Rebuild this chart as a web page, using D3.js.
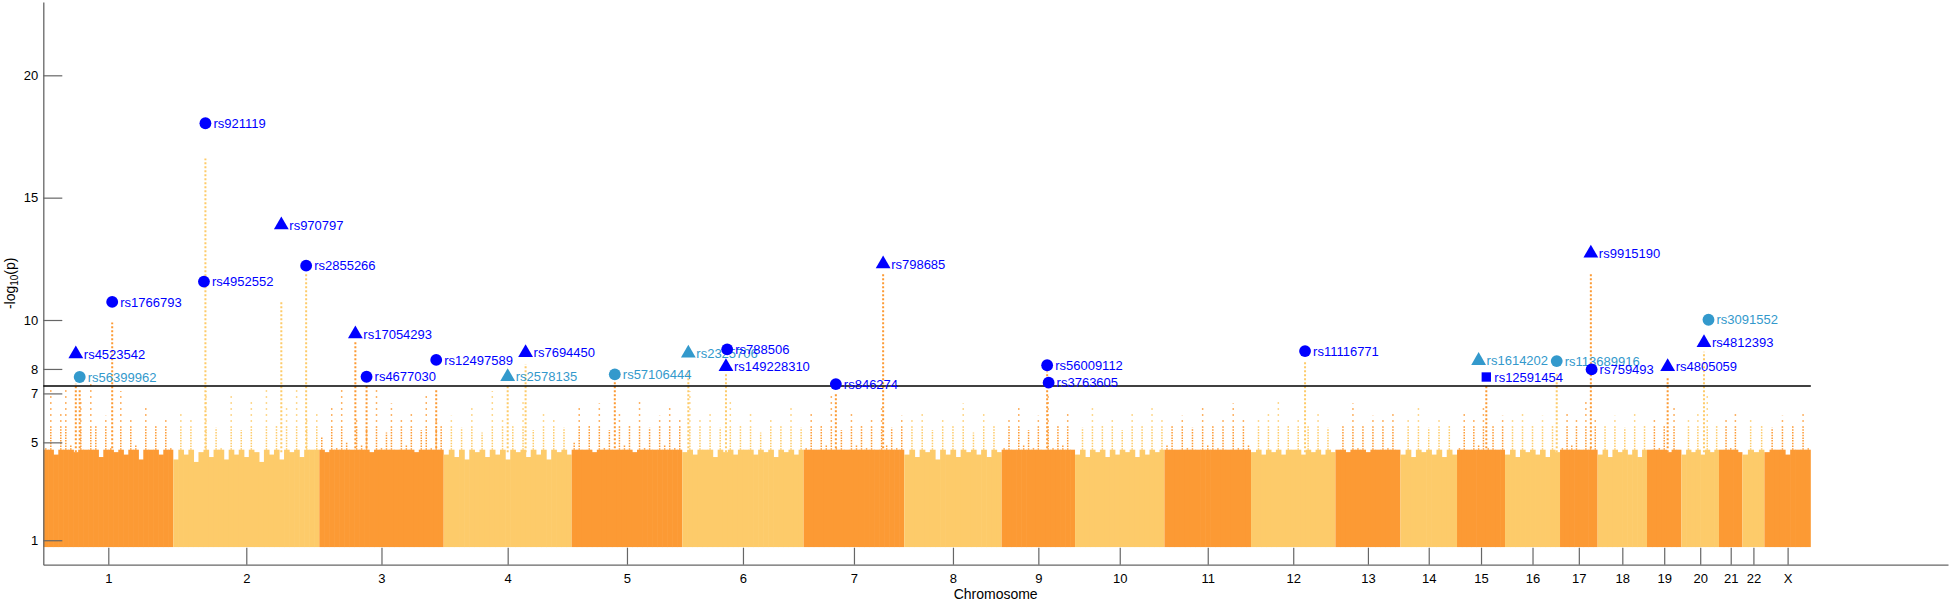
<!DOCTYPE html>
<html>
<head>
<meta charset="utf-8">
<script src="https://cdn.jsdelivr.net/npm/d3@7"></script>
<style>
  body { margin: 0; background: #fff; }
  svg { display: block; font-family: "Liberation Sans", Arial, Helvetica, sans-serif; }
</style>
</head>
<body>
<svg id="chart" width="1950" height="601"></svg>
<script>
// chromosomes and their size in the plot (thousands of SNPs)
const chrNames = ['1', '2', '3', '4', '5', '6', '7', '8', '9', '10', '11', '12', '13', '14', '15', '16', '17', '18', '19', '20', '21', '22', 'X'];
const chrSnps = [650, 730, 622, 640, 553, 607, 503, 487, 367, 447, 433, 422, 325, 283, 240, 275, 188, 247, 172, 188, 117, 110, 232];
const xMax = 9524;

// upper edge of the background cloud, read across each chromosome (-log10 p)
const chrFringe = [
  [4.8, 7.2, 4.5, 6.3, 7.3, 4.9, 4.6, 6.8, 4.7, 7.4, 5.8, 4.4, 6.1, 4.8, 4.6, 7.1, 4.5, 6.0, 4.9, 4.3, 6.4, 4.7, 5.8, 4.5, 6.0, 4.8],
  [4.3, 6.2, 4.5, 5.9, 4.2, 4.6, 7.1, 4.4, 5.6, 4.8, 4.3, 6.9, 4.5, 5.5, 4.4, 6.7, 4.6, 4.2, 7.2, 4.5, 5.7, 4.3, 6.4, 4.6, 7.3, 4.4, 5.9, 4.7, 6.2],
  [5.2, 4.6, 6.5, 4.8, 7.2, 5.0, 4.7, 6.0, 4.9, 5.6, 4.6, 7.3, 4.8, 5.4, 6.6, 4.7, 5.9, 4.9, 6.2, 4.6, 5.5, 7.0, 4.8, 6.1, 5.8],
  [4.5, 6.1, 4.4, 5.6, 4.3, 6.4, 4.6, 5.4, 4.4, 7.1, 4.5, 6.0, 4.3, 5.8, 4.6, 6.7, 4.4, 5.5, 4.5, 6.3, 4.3, 5.9, 4.6, 5.6, 4.5],
  [5.0, 6.4, 4.7, 5.8, 4.6, 6.6, 4.8, 5.5, 4.7, 6.2, 4.9, 5.7, 4.6, 6.8, 4.8, 5.6, 4.7, 6.1, 4.9, 6.5, 4.8, 5.9],
  [4.6, 7.1, 4.5, 5.9, 4.7, 6.3, 4.4, 5.6, 4.6, 6.8, 4.5, 5.7, 4.7, 6.2, 4.5, 5.4, 4.6, 6.0, 4.4, 5.8, 4.6, 6.4, 4.5, 5.6],
  [4.8, 6.2, 4.7, 5.7, 4.9, 6.9, 4.8, 5.5, 4.7, 6.3, 4.9, 5.8, 4.8, 6.0, 4.7, 6.5, 4.9, 5.6, 4.8, 6.1],
  [4.5, 5.9, 4.4, 6.3, 4.6, 5.5, 4.3, 6.0, 4.5, 5.7, 4.4, 6.6, 4.6, 5.4, 4.5, 6.2, 4.4, 5.8, 4.6],
  [4.8, 5.9, 4.7, 6.4, 4.9, 5.5, 4.8, 6.1, 4.7, 6.9, 4.8, 5.7, 4.9, 6.3, 4.7],
  [4.5, 5.6, 4.4, 6.5, 4.6, 5.8, 4.4, 6.0, 4.5, 5.5, 4.6, 6.2, 4.4, 5.7, 4.5, 6.4, 4.6, 5.9],
  [4.9, 5.8, 4.7, 6.1, 4.8, 5.6, 4.7, 6.4, 4.9, 5.7, 4.8, 6.0, 4.7, 6.6, 4.8, 5.9, 4.9],
  [4.6, 5.9, 4.5, 6.2, 4.6, 6.7, 4.5, 5.7, 4.7, 6.0, 4.5, 5.8, 4.6, 6.3, 4.5, 5.6, 4.6],
  [4.7, 5.8, 4.6, 6.6, 4.8, 5.7, 4.6, 6.1, 4.7, 5.9, 4.8, 6.2, 4.7],
  [4.5, 5.9, 4.4, 6.4, 4.6, 5.6, 4.5, 6.0, 4.4, 5.8, 4.5],
  [4.8, 6.3, 4.7, 5.9, 4.9, 6.5, 4.8, 5.7, 4.7, 6.1],
  [4.5, 6.0, 4.4, 6.3, 4.6, 5.7, 4.5, 6.1, 4.4, 5.8, 4.6],
  [4.8, 6.2, 4.9, 5.9, 4.7, 6.7, 4.8, 6.0],
  [4.5, 5.8, 4.4, 6.1, 4.6, 5.6, 4.5, 6.3, 4.4, 5.7],
  [4.7, 6.0, 4.8, 5.7, 4.6, 6.4, 4.7],
  [4.5, 5.9, 4.6, 6.2, 4.5, 7.0, 4.6, 5.8],
  [4.7, 5.9, 4.8, 6.2, 4.6],
  [4.5, 6.0, 4.6, 5.7],
  [4.6, 5.6, 4.7, 6.1, 4.5, 5.8, 4.7, 6.2, 4.8]
];
const cloudFloor = 0.72;

// labelled lead SNPs: chromosome index, relative position inside chromosome, -log10 p
const snpIds = ['rs56399962', 'rs2578135', 'rs57106444', 'rs2325706', 'rs1614202', 'rs113689916', 'rs3091552',
  'rs4523542', 'rs1766793', 'rs4952552', 'rs921119', 'rs970797', 'rs2855266', 'rs17054293', 'rs4677030',
  'rs12497589', 'rs7694450', 'rs788506', 'rs149228310', 'rs846274', 'rs798685', 'rs56009112', 'rs3763605',
  'rs11116771', 'rs12591454', 'rs9915190', 'rs759493', 'rs4805059', 'rs4812393'];
const snpChr = [0, 3, 4, 5, 14, 15, 19, 0, 0, 1, 1, 1, 1, 2, 2, 2, 3, 5, 5, 6, 6, 8, 8, 11, 14, 16, 16, 18, 19];
const snpPos = [0.28, 0.50, 0.39, 0.05, 0.45, 0.94, 0.72, 0.25, 0.53, 0.21, 0.22, 0.74, 0.91, 0.29, 0.38,
  0.94, 0.64, 0.37, 0.36, 0.32, 0.79, 0.62, 0.64, 0.64, 0.61, 0.82, 0.84, 0.60, 0.60];
const snpLogP = [7.67, 7.68, 7.78, 8.64, 8.34, 8.32, 10.01, 8.61, 10.74, 11.57, 18.04, 13.88, 12.22, 9.43, 7.68,
  8.37, 8.66, 8.80, 8.09, 7.38, 12.29, 8.15, 7.44, 8.73, 7.67, 12.73, 7.98, 8.09, 9.07];
const snpShape = ['circle', 'triangle', 'circle', 'triangle', 'triangle', 'circle', 'circle', 'triangle', 'circle',
  'circle', 'circle', 'triangle', 'circle', 'triangle', 'circle', 'circle', 'triangle', 'circle', 'triangle',
  'circle', 'triangle', 'circle', 'circle', 'circle', 'square', 'triangle', 'circle', 'triangle', 'triangle'];
const snpTone = ['light', 'light', 'light', 'light', 'light', 'light', 'light', 'dark', 'dark', 'dark', 'dark', 'dark',
  'dark', 'dark', 'dark', 'dark', 'dark', 'dark', 'dark', 'dark', 'dark', 'dark', 'dark', 'dark', 'dark', 'dark',
  'dark', 'dark', 'dark'];
// highest background point in the column under each lead SNP (0 = no own column)
const snpColTop = [7.2, 7.3, 7.5, 8.0, 0, 7.8, 0, 7.4, 9.9, 0, 16.6, 10.8, 11.9, 9.1, 7.3,
  7.2, 8.2, 0, 7.8, 7.0, 11.9, 7.9, 0, 8.3, 7.3, 11.9, 0, 7.7, 8.7];

const yTicks = [1, 5, 7, 8, 10, 15, 20];
const gwsLine = -Math.log10(5e-8);

const svg = d3.select('#chart');
const x = d3.scaleLinear().domain([0, xMax]).range([43.3, 1948]);
const y = d3.scaleLinear().domain([0, 23]).range([564.7, 1.9]);

const chrStart = Array.from(d3.cumsum([0, ...chrSnps]));
const chrColor = (c) => (c % 2 === 0 ? '#fc9a34' : '#fdcb6a');
const capTop = 4.7;   // top of the near-solid part of the cloud
const denseTop = 5.6; // dots thin out above this

// background cloud
const cloud = svg.append('g');
chrFringe.forEach((hs, c) => {
  const step = chrSnps[c] / hs.length;
  hs.forEach((h, i) => {
    const a = chrStart[c] + i * step;
    const b = a + step;
    const top = Math.min(h, capTop);
    const wExtra = i < hs.length - 1 ? 0.6 : 0;
    cloud.append('rect')
      .attr('x', x(a))
      .attr('width', x(b) - x(a) + wExtra)
      .attr('y', y(top))
      .attr('height', y(cloudFloor) - y(top))
      .attr('fill', chrColor(c));
    if (h > capTop) {
      const xm = x(a + step * 0.5);
      cloud.append('line')
        .attr('x1', xm).attr('x2', xm)
        .attr('y1', y(capTop)).attr('y2', y(Math.min(h, denseTop)))
        .attr('stroke', chrColor(c))
        .attr('stroke-width', 1.5)
        .attr('stroke-dasharray', '1.5 1.2');
      if (h > denseTop) {
        cloud.append('line')
          .attr('x1', xm).attr('x2', xm)
          .attr('y1', y(denseTop)).attr('y2', y(h))
          .attr('stroke', chrColor(c))
          .attr('stroke-width', 1.5)
          .attr('stroke-dasharray', '1.5 4.5');
      }
    }
  });
});

// columns under the lead SNPs
snpIds.forEach((id, i) => {
  if (!snpColTop[i]) return;
  const c = snpChr[i];
  const xm = x(chrStart[c] + snpPos[i] * chrSnps[c]);
  cloud.append('line')
    .attr('x1', xm).attr('x2', xm)
    .attr('y1', y(4.6)).attr('y2', y(snpColTop[i]))
    .attr('stroke', chrColor(c))
    .attr('stroke-width', 2)
    .attr('stroke-dasharray', '2 2');
});

// axes
const yAxis = d3.axisLeft(y).tickValues(yTicks).tickSizeInner(-19).tickSizeOuter(0).tickPadding(5);
const gy = svg.append('g').attr('transform', `translate(${x(0)},0)`).call(yAxis);

const centers = chrSnps.map((s, i) => chrStart[i] + s / 2);
const xAxis = d3.axisBottom(x).tickValues(centers).tickFormat((d, i) => chrNames[i])
  .tickSizeInner(-17).tickSizeOuter(0).tickPadding(9);
const gx = svg.append('g').attr('transform', `translate(0,${y(0)})`).call(xAxis);

[gx, gy].forEach((g) => {
  g.selectAll('.domain').attr('stroke', '#666').attr('stroke-width', 1.3);
  g.selectAll('.tick line').attr('stroke', '#666').attr('stroke-width', 1.2);
  g.selectAll('.tick text').attr('fill', '#000').style('font-size', '13px')
    .style('font-family', '"Liberation Sans", Arial, Helvetica, sans-serif');
});

svg.append('text')
  .attr('x', (x.range()[0] + x.range()[1]) / 2)
  .attr('y', 599)
  .attr('text-anchor', 'middle')
  .style('font-size', '14px')
  .text('Chromosome');

const ylab = svg.append('text')
  .attr('transform', `translate(15,${(y.range()[0] + y.range()[1]) / 2}) rotate(-90)`)
  .attr('text-anchor', 'middle')
  .style('font-size', '14px');
ylab.append('tspan').text('-log');
ylab.append('tspan').attr('baseline-shift', '-25%').style('font-size', '10px').text('10');
ylab.append('tspan').text('(p)');

// genome-wide significance line
svg.append('line')
  .attr('x1', x(0)).attr('x2', x(chrStart[chrStart.length - 1]))
  .attr('y1', y(gwsLine)).attr('y2', y(gwsLine))
  .attr('stroke', '#000').attr('stroke-width', 1.5);

// lead SNPs with labels
const toneColor = { dark: '#0000ff', light: '#3399cc' };
const symbolFor = {
  circle: d3.symbol(d3.symbolCircle, 110),
  triangle: d3.symbol(d3.symbolTriangle, 95),
  square: d3.symbol(d3.symbolSquare, 88),
};
const leads = svg.append('g');
snpIds.forEach((id, i) => {
  const c = snpChr[i];
  const px = x(chrStart[c] + snpPos[i] * chrSnps[c]);
  const py = y(snpLogP[i]);
  const col = toneColor[snpTone[i]];
  leads.append('path')
    .attr('d', symbolFor[snpShape[i]]())
    .attr('transform', `translate(${px},${py})`)
    .attr('fill', col);
  leads.append('text')
    .attr('x', px + 8)
    .attr('y', py)
    .attr('dy', '0.36em')
    .attr('fill', col)
    .style('font-size', '13px')
    .text(id);
});
</script>
</body>
</html>
